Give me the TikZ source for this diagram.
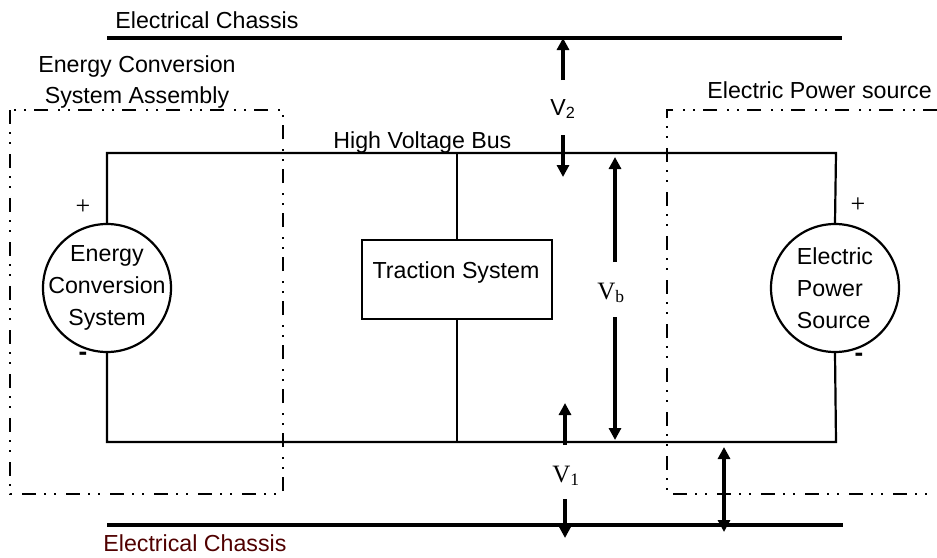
\documentclass[tikz,border=0pt]{standalone}
\usepackage{fontspec}
\setmainfont{Liberation Sans}
\newfontfamily\serifV{Liberation Serif}
\usetikzlibrary{arrows.meta}
\definecolor{chassisred}{RGB}{80,0,0}
\begin{document}
\begin{tikzpicture}[x=0.5pt,y=-0.5pt,
  txt/.style={font=\fontsize{11.6}{15}\selectfont, inner sep=0pt},
  vtxt/.style={font=\serifV\fontsize{12.5}{15}\selectfont, inner sep=0pt},
  sign/.style={font=\fontsize{12}{14}\selectfont, inner sep=0pt},
  bus/.style={line width=1.1pt},
  chassis/.style={line width=2pt},
  volt/.style={line width=2pt,-{Triangle[length=6pt,width=6pt]}},
  voltboth/.style={line width=2pt,{Triangle[length=6pt,width=6pt]}-{Triangle[length=6pt,width=6pt]}},
  assembly/.style={line width=1pt, dash pattern=on 7pt off 4pt on 1pt off 4pt on 1pt off 5pt},
  src/.style={circle, draw, line width=1.1pt, minimum size=64pt, inner sep=0pt},
  srctxt/.style={inner sep=0pt, font=\fontsize{11.6}{16}\selectfont},
  tbox/.style={rectangle, draw, line width=1.1pt, minimum width=95pt, minimum height=39.5pt, inner sep=0pt}
]
\useasboundingbox (0,0) rectangle (937,557);

% chassis lines
\coordinate (c1l) at (107,38);
\coordinate (c1r) at (842,38);
\coordinate (c2l) at (107,525);
\coordinate (c2r) at (843,525);
\draw[chassis] (c1l) -- (c1r);
\draw[chassis] (c2l) -- (c2r);
\node[txt, anchor=base west] (chtop) at (115,28) {Electrical Chassis};
\node[txt, anchor=base west, text=chassisred] (chbot) at (103,551) {Electrical Chassis};

% assembly boxes
\draw[assembly] (10,110) rectangle (283,494);
\draw[assembly] (937,110) -- (667,110) -- (667,494) -- (937,494);
\node[txt, anchor=base] (asmlabel1) at (137,72.5) {Energy Conversion};
\node[txt, anchor=base] (asmlabel2) at (137,103) {System Assembly};
\node[txt, anchor=base west] (epslabel) at (707,98) {Electric Power source};

% sources
\node[src] (ecs) at (107,288) {};
\node[srctxt, align=center] (ecstext) at (ecs.center) {Energy\\Conversion\\System};
\node[src] (eps) at (835,288) {};
\node[srctxt, align=left] (epstext) at (eps.center) {Electric\\Power\\Source};
\node[sign, font=\serifV\fontsize{13}{14}\selectfont] (ecsp) at (83,207) {+};
\node[sign, font=\bfseries\fontsize{13}{14}\selectfont] (ecsm) at (83,356) {-};
\node[sign, font=\serifV\fontsize{13}{14}\selectfont] (epsp) at (858,205) {+};
\node[sign, font=\bfseries\fontsize{13}{14}\selectfont] (epsm) at (859,357) {-};

% bus
\coordinate (tl) at (107,153);
\coordinate (tr) at (836,153);
\coordinate (bl) at (107,442);
\coordinate (br) at (836,442);
\draw[bus] (ecs.north) -- (tl) -- (tr) -- (eps.north);
\draw[bus] (ecs.south) -- (bl) -- (br) -- (eps.south);
\node[txt, anchor=base west] (hvb) at (333,148) {High Voltage Bus};

% traction
\node[tbox] (ts) at (457,279.5) {};
\node[txt, anchor=base] (tstext) at (456,278) {Traction System};
\draw[bus] (ts.north |- tl) -- (ts.north);
\draw[bus] (ts.south) -- (ts.south |- bl);

% V2
\node[txt, anchor=base west] (v2) at (550,115) {V\textsubscript{2}};
\coordinate (v2a) at (563,80);
\coordinate (v2b) at (563,135);
\coordinate (v2c) at (563,177);
\draw[volt] (v2a) -- (v2a |- c1l);
\draw[volt] (v2b) -- (v2c);

% Vb
\node[vtxt, anchor=base west] (vb) at (597,299) {V\textsubscript{b}};
\coordinate (vba) at (615,262);
\coordinate (vbt) at (615,157);
\coordinate (vbb) at (615,317);
\coordinate (vbe) at (615,440);
\draw[volt] (vba) -- (vbt);
\draw[volt] (vbb) -- (vbe);

% V1
\node[vtxt, anchor=base west] (v1) at (552,482) {V\textsubscript{1}};
\coordinate (v1a) at (565,445);
\coordinate (v1t) at (565,403);
\coordinate (v1b) at (565,499);
\coordinate (v1e) at (565,538);
\draw[volt] (v1a) -- (v1t);
\draw[volt] (v1b) -- (v1e);

% extra
\coordinate (xa) at (724,447);
\coordinate (xb) at (724,532);
\draw[voltboth] (xa) -- (xb);
\end{tikzpicture}
\end{document}
